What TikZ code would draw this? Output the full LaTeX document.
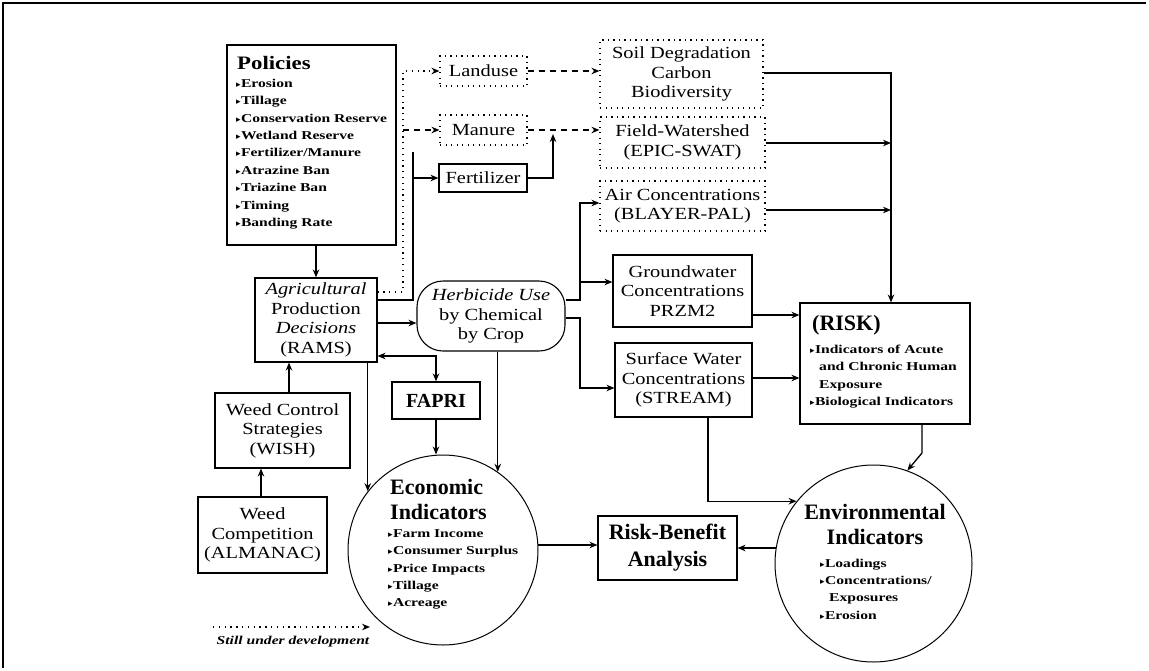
\documentclass[tikz,border=0pt]{standalone}
\usepackage{fontspec}
\setmainfont{Liberation Serif}
\newfontfamily\rmwide[FakeStretch=1.2]{Liberation Serif}
\newfontfamily\bulwide[FakeStretch=1.3]{Liberation Serif}
\newfontfamily\djv{DejaVu Sans}
\usetikzlibrary{arrows.meta,calc}
\newcommand\regfont{\rmwide\fontsize{17}{19.5}\selectfont}
\newcommand\bulfont{\bulwide\bfseries\fontsize{12}{17.4}\selectfont}
\newcommand\headfont{\bfseries\fontsize{22}{25}\selectfont}
\newcommand\mytri{{\djv\fontsize{9}{9}\selectfont ▸}\hspace{0.3pt}}
\begin{document}
\begin{tikzpicture}[x=1pt,y=-1pt,
  box/.style={draw,line width=1.1pt,inner sep=0pt,align=center,font=\regfont},
  dbox/.style={draw,line width=1.1pt,dash pattern=on 1.1pt off 4.4pt,inner sep=0pt,align=center,font=\regfont},
  txt/.style={inner sep=0pt},
  arr/.style={line width=1.3pt,-{Stealth[length=8pt,width=6.5pt]}},
  biarr/.style={line width=1.3pt,{Stealth[length=8pt,width=6.5pt]}-{Stealth[length=8pt,width=6.5pt]}},
  dotarr/.style={line width=1.3pt,dash pattern=on 1.3pt off 4.5pt,-{Stealth[length=8pt,width=6.5pt]}},
  dasharr/.style={line width=1.3pt,dash pattern=on 6pt off 5pt,-{Stealth[length=8pt,width=6.5pt]}},
  line/.style={line width=1.3pt}]
\useasboundingbox (0,0) rectangle (1149,670);
\draw[line width=1.3pt] (3,668) -- (3,3) -- (1146,3);

% Policies
\node[box,minimum width=169pt,minimum height=200pt] (pol) at (311.5,145) {};
\node[txt,anchor=base west,font=\rmwide\bfseries\fontsize{19}{22}\selectfont] (polh) at (237,69) {Policies};
\node[txt,anchor=west,align=left,font=\bulfont] (poll) at (236,154) {\mytri Erosion\\\mytri Tillage\\\mytri Conservation Reserve\\\mytri Wetland Reserve\\\mytri Fertilizer/Manure\\\mytri Atrazine Ban\\\mytri Triazine Ban\\\mytri Timing\\\mytri Banding Rate};

% top middle
\node[dbox,minimum width=87pt,minimum height=30pt] (land) at (483.5,71) {Landuse};
\node[dbox,minimum width=87pt,minimum height=30pt] (man) at (483.5,130) {Manure};
\node[box,minimum width=88pt,minimum height=28pt] (fert) at (483,178) {Fertilizer};
\node[dbox,minimum width=163pt,minimum height=68pt] (soil) at (681.5,74) {Soil Degradation\\Carbon\\Biodiversity};
\node[dbox,minimum width=165pt,minimum height=51pt] (field) at (682.5,142.5) {Field-Watershed\\(EPIC-SWAT)};
\node[dbox,minimum width=165pt,minimum height=50pt] (air) at (682.5,206) {Air Concentrations\\(BLAYER-PAL)};
\node[box,minimum width=139pt,minimum height=72pt] (gw) at (682.5,291) {Groundwater\\Concentrations\\PRZM2};
\node[box,minimum width=137pt,minimum height=74pt] (sw) at (683.5,380) {Surface Water\\Concentrations\\(STREAM)};

% RISK
\node[box,minimum width=170pt,minimum height=121pt] (risk) at (885,363.5) {};
\node[txt,anchor=west,font=\headfont] (riskh) at (812,325) {(RISK)};
\node[txt,anchor=west,align=left,font=\bulfont] (riskl) at (810,376.5) {\mytri Indicators of Acute\\\hspace*{9pt}and Chronic Human\\\hspace*{9pt}Exposure\\\mytri Biological Indicators};

% middle
\node[box,rounded corners=26pt,minimum width=148pt,minimum height=70pt] (herb) at (491,316) {\textit{Herbicide Use}\\by Chemical\\by Crop};
\node[box,minimum width=122pt,minimum height=84pt] (rams) at (316,320) {\textit{Agricultural}\\Production\\\textit{Decisions}\\(RAMS)};
\node[box,minimum width=135pt,minimum height=75pt] (wish) at (282.5,430.5) {Weed Control\\Strategies\\(WISH)};
\node[box,minimum width=129pt,minimum height=76pt] (comp) at (262.5,535) {Weed\\Competition\\(ALMANAC)};
\node[box,minimum width=88pt,minimum height=37pt,font=\bfseries\fontsize{20}{22}\selectfont] (fapri) at (436,400.5) {FAPRI};

% Economic
\node[circle,draw,line width=1pt,minimum size=190pt,inner sep=0pt] (econ) at (443,550) {};
\node[txt,anchor=west,align=left,font=\headfont] (econh) at (390,499.5) {Economic\\Indicators};
\node[txt,anchor=west,align=left,font=\bulfont] (econl) at (388,569.5) {\mytri Farm Income\\\mytri Consumer Surplus\\\mytri Price Impacts\\\mytri Tillage\\\mytri Acreage};

\node[box,minimum width=139pt,minimum height=64pt,font=\bfseries\fontsize{22}{27}\selectfont] (rb) at (667.5,548) {Risk-Benefit\\Analysis};

% Environmental
\node[circle,draw,line width=1pt,minimum size=197pt,inner sep=0pt] (env) at (873.5,563.5) {};
\node[txt,align=center,font=\headfont] (envh) at (875,524.5) {Environmental\\Indicators};
\node[txt,anchor=west,align=left,font=\bulfont] (envl) at (820,589) {\mytri Loadings\\\mytri Concentrations/\\\hspace*{9pt}Exposures\\\mytri Erosion};

% legend
\coordinate (lgA) at (213,627);
\coordinate (lgB) at (370,627);
\draw[dotarr] (lgA) -- (lgB);
\node[txt,font=\bulwide\bfseries\itshape\fontsize{12}{14}\selectfont] (lgt) at (293,642) {Still under development};

% connectors
\draw[arr] (rams.north |- pol.south) -- (rams.north);
\draw[dotarr] (rams.east |- 0,292) -- (403,292) |- (land.west);
\coordinate (jman) at (403,130);
\draw[dasharr] (jman) -- (man.west);
\draw[arr] (rams.east |- 0,300) -- (413,300) |- (fert.west);
\coordinate (jf) at (413,178);
\coordinate (jtop) at (413,152);
\draw[line] (jf) -- (jtop);
\draw[arr] (rams.east |- 0,323) -- (herb.west |- 0,323);
\draw[biarr] (rams.east |- 0,356) -| (fapri.north);
\draw[arr] (wish.north -| 289,0) -- (rams.south -| 289,0);
\draw[arr] (comp.north -| 261,0) -- (wish.south -| 261,0);
\draw[arr] (rams.south -| econ.142) -- (econ.142);
\draw[arr] (herb.south -| econ.55) -- (econ.55);
\draw[arr] (fapri.south) -- (fapri.south |- econ.north);
\draw[arr] (herb.east |- 0,300) -- (580,300) |- (air.west |- 0,203);
\coordinate (jgw) at (580,282);
\draw[arr] (jgw) -- (gw.west |- jgw);
\draw[arr] (herb.east |- 0,318) -- (580,318) |- (sw.west |- 0,388);
\draw[arr] (gw.east |- 0,315) -- (risk.west |- 0,315);
\draw[arr] (sw.east |- 0,378) -- (risk.west |- 0,378);
\draw[arr] (soil.east |- 0,73) -| (risk.north -| 891,0);
\coordinate (jfield) at (891,143);
\draw[arr] (field.east |- jfield) -- (jfield);
\coordinate (jairr) at (891,210);
\draw[arr] (air.east |- jairr) -- (jairr);
\draw[dasharr] (land.east) -- (soil.west |- land.east);
\draw[dasharr] (man.east) -- (field.west |- man.east);
\coordinate (jfert) at (553,134);
\draw[arr] (fert.east) -| (jfert);
\draw[arr] (sw.south -| 708,0) |- (env.141);
\draw[arr] (risk.south -| 922,0) -- (922,453) -- (env.70);
\draw[arr] (econ.3) -- (rb.west |- econ.3);
\draw[arr] (env.171) -- (rb.east |- env.171);
\end{tikzpicture}
\end{document}
